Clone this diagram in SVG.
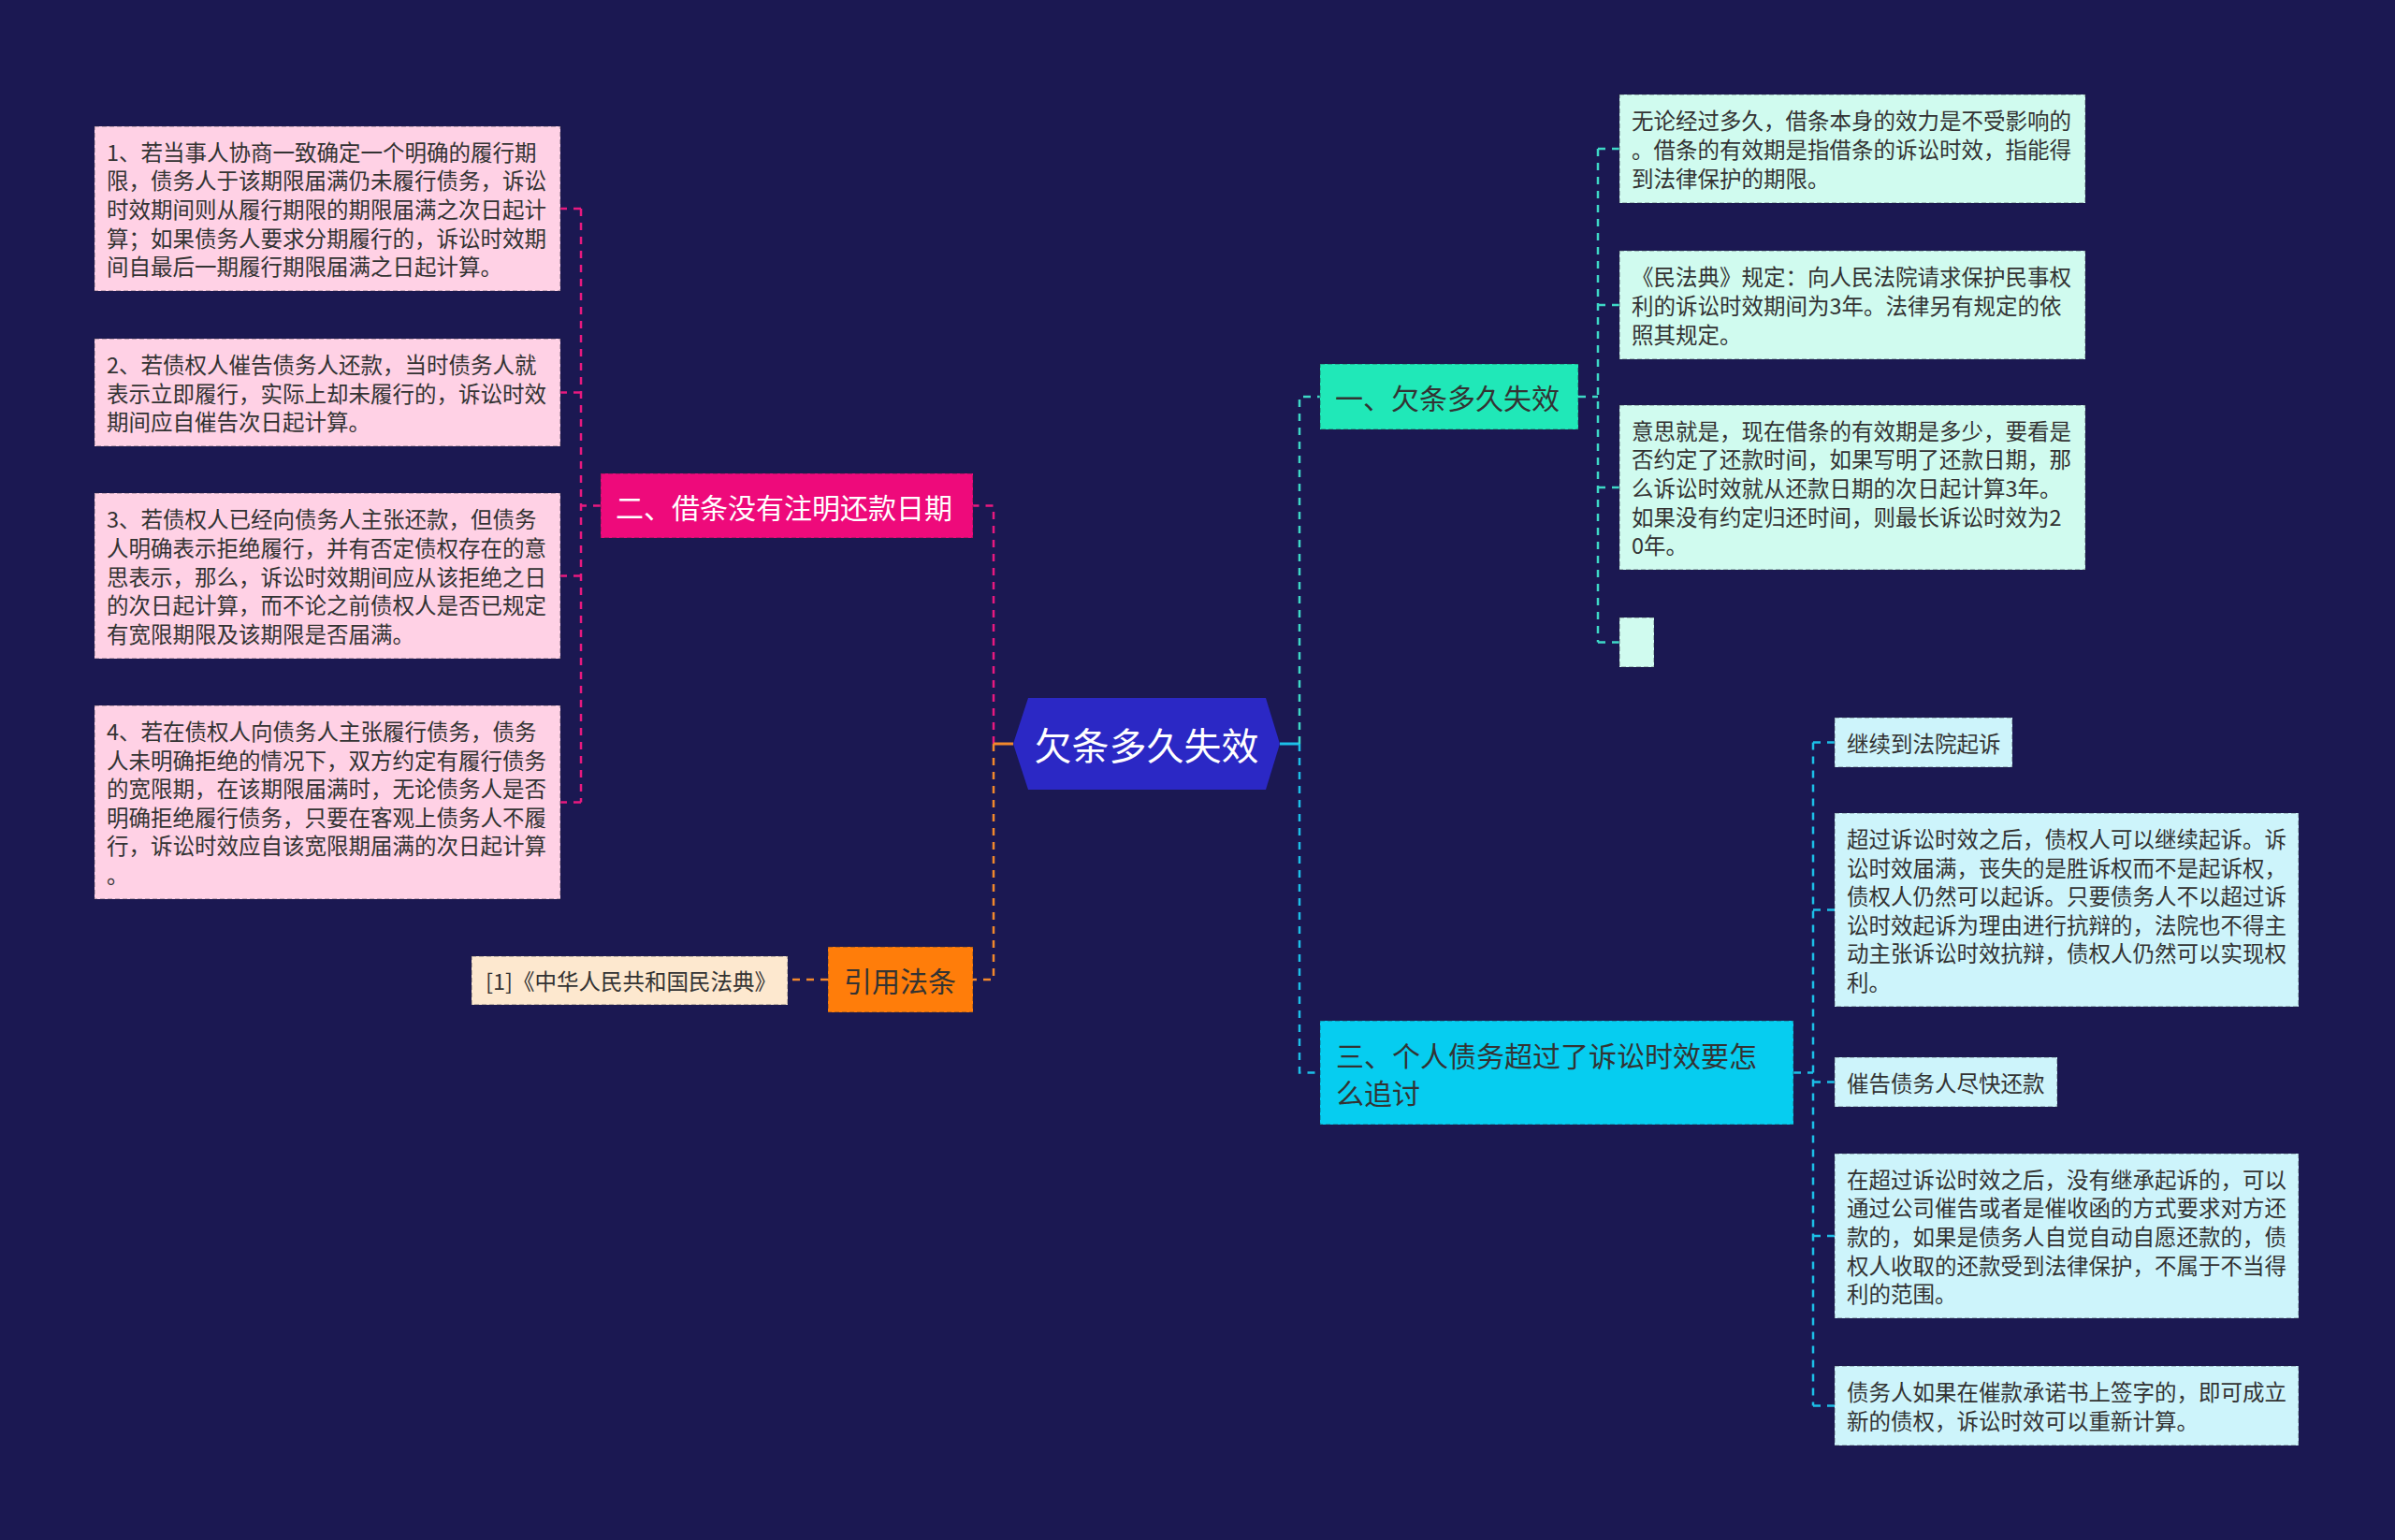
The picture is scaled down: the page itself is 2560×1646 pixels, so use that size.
<svg xmlns="http://www.w3.org/2000/svg" width="2560" height="1646" viewBox="0 0 2560 1646">
<style>
text{font-family:"Noto Sans CJK SC","Microsoft YaHei",sans-serif;dominant-baseline:central}
.leaf{font-size:23.5px;fill:#333}
.br{font-size:30px}
.nb{stroke:rgba(40,40,60,0.35);stroke-width:1.5;stroke-dasharray:5 3}
.c{fill:none;stroke-width:2.5;stroke-dasharray:8 7}
.pk{stroke:#e8197f}.or{stroke:#f2882c}.tl{stroke:#3ed8c6}.cy{stroke:#1cbfe8}
</style>
<rect width="2560" height="1646" fill="#1b1852"/>
<g id="connectors">
<path class="c pk" d="M1062,795 V540.5 H1040"/>
<path class="c pk" d="M642,540.5 H621"/>
<path class="c pk" d="M621,223 V857.5 M621,223 H599 M621,419.5 H599 M621,615.5 H599 M621,857.5 H599"/>
<path d="M1083,795 H1062" stroke="#f2882c" stroke-width="3" fill="none"/>
<path class="c or" d="M1062,795 V1047 H1040"/>
<path class="c or" d="M885,1047 H842"/>
<path d="M1368,795 H1389" stroke="#1cbfe8" stroke-width="3" fill="none"/>
<path class="c tl" d="M1389,795 V424 H1411"/>
<path class="c cy" d="M1389,795 V1146.5 H1411"/>
<path class="c tl" d="M1687,424 H1708 M1708,159 V686.5 M1708,159 H1731 M1708,326 H1731 M1708,521 H1731 M1708,686.5 H1731"/>
<path class="c cy" d="M1917,1146.5 H1938 M1938,793.5 V1502.5 M1938,793.5 H1961 M1938,972.5 H1961 M1938,1156.5 H1961 M1938,1321 H1961 M1938,1502.5 H1961"/>
</g>
<g id="center">
<polygon points="1099,746 1353,746 1368,795 1353,844 1099,844 1083,795" fill="#2b28c5"/>
<text x="1225.5" y="795" font-size="40" fill="#fff" text-anchor="middle">欠条多久失效</text>
</g>
<g id="b2">
<rect class="nb" x="642" y="506" width="398" height="69" fill="#ee0a7b"/>
<text class="br" x="658" y="540.5" fill="#fff">二、借条没有注明还款日期</text>
</g>
<g id="p1">
<rect class="nb" x="101" y="135" width="498" height="176" fill="#ffd1e5"/>
<text class="leaf"><tspan x="114" y="161.8">1、若当事人协商一致确定一个明确的履行期</tspan><tspan x="114" y="192.4">限，债务人于该期限届满仍未履行债务，诉讼</tspan><tspan x="114" y="223">时效期间则从履行期限的期限届满之次日起计</tspan><tspan x="114" y="253.6">算；如果债务人要求分期履行的，诉讼时效期</tspan><tspan x="114" y="284.2">间自最后一期履行期限届满之日起计算。</tspan></text>
</g>
<g id="p2">
<rect class="nb" x="101" y="362" width="498" height="115" fill="#ffd1e5"/>
<text class="leaf"><tspan x="114" y="388.9">2、若债权人催告债务人还款，当时债务人就</tspan><tspan x="114" y="419.5">表示立即履行，实际上却未履行的，诉讼时效</tspan><tspan x="114" y="450.1">期间应自催告次日起计算。</tspan></text>
</g>
<g id="p3">
<rect class="nb" x="101" y="527" width="498" height="177" fill="#ffd1e5"/>
<text class="leaf"><tspan x="114" y="554.3">3、若债权人已经向债务人主张还款，但债务</tspan><tspan x="114" y="584.9">人明确表示拒绝履行，并有否定债权存在的意</tspan><tspan x="114" y="615.5">思表示，那么，诉讼时效期间应从该拒绝之日</tspan><tspan x="114" y="646.1">的次日起计算，而不论之前债权人是否已规定</tspan><tspan x="114" y="676.7">有宽限期限及该期限是否届满。</tspan></text>
</g>
<g id="p4">
<rect class="nb" x="101" y="754" width="498" height="207" fill="#ffd1e5"/>
<text class="leaf"><tspan x="114" y="781">4、若在债权人向债务人主张履行债务，债务</tspan><tspan x="114" y="811.6">人未明确拒绝的情况下，双方约定有履行债务</tspan><tspan x="114" y="842.2">的宽限期，在该期限届满时，无论债务人是否</tspan><tspan x="114" y="872.8">明确拒绝履行债务，只要在客观上债务人不履</tspan><tspan x="114" y="903.4">行，诉讼时效应自该宽限期届满的次日起计算</tspan><tspan x="114" y="934">。</tspan></text>
</g>
<g id="ref">
<rect class="nb" x="885" y="1012" width="155" height="70" fill="#ff7d0a"/>
<text class="br" x="902" y="1047" fill="#333">引用法条</text>
</g>
<g id="ref1">
<rect class="nb" x="504" y="1022" width="338" height="52" fill="#fde8cf"/>
<text class="leaf" x="519" y="1048">[1]《中华人民共和国民法典》</text>
</g>
<g id="b1">
<rect class="nb" x="1411" y="389" width="276" height="70" fill="#20e8b8"/>
<text class="br" x="1427" y="424" fill="#333">一、欠条多久失效</text>
</g>
<g id="r1">
<rect class="nb" x="1731" y="101" width="498" height="116" fill="#d0fbef"/>
<text class="leaf"><tspan x="1744" y="128.4">无论经过多久，借条本身的效力是不受影响的</tspan><tspan x="1744" y="159">。借条的有效期是指借条的诉讼时效，指能得</tspan><tspan x="1744" y="189.6">到法律保护的期限。</tspan></text>
</g>
<g id="r2">
<rect class="nb" x="1731" y="268" width="498" height="116" fill="#d0fbef"/>
<text class="leaf"><tspan x="1744" y="295.4">《民法典》规定：向人民法院请求保护民事权</tspan><tspan x="1744" y="326">利的诉讼时效期间为3年。法律另有规定的依</tspan><tspan x="1744" y="356.6">照其规定。</tspan></text>
</g>
<g id="r3">
<rect class="nb" x="1731" y="433" width="498" height="176" fill="#d0fbef"/>
<text class="leaf"><tspan x="1744" y="459.8">意思就是，现在借条的有效期是多少，要看是</tspan><tspan x="1744" y="490.4">否约定了还款时间，如果写明了还款日期，那</tspan><tspan x="1744" y="521">么诉讼时效就从还款日期的次日起计算3年。</tspan><tspan x="1744" y="551.6">如果没有约定归还时间，则最长诉讼时效为2</tspan><tspan x="1744" y="582.2">0年。</tspan></text>
</g>
<g id="r4">
<rect class="nb" x="1731" y="660" width="37" height="53" fill="#d0fbef"/>
</g>
<g id="b3">
<rect class="nb" x="1411" y="1091" width="506" height="111" fill="#06cdf0"/>
<text class="br" fill="#333"><tspan x="1428" y="1127">三、个人债务超过了诉讼时效要怎</tspan><tspan x="1428" y="1167">么追讨</tspan></text>
</g>
<g id="s1">
<rect class="nb" x="1961" y="767" width="190" height="53" fill="#cdf4fb"/>
<text class="leaf" x="1974" y="793.5">继续到法院起诉</text>
</g>
<g id="s2">
<rect class="nb" x="1961" y="869" width="496" height="207" fill="#cdf4fb"/>
<text class="leaf"><tspan x="1974" y="896">超过诉讼时效之后，债权人可以继续起诉。诉</tspan><tspan x="1974" y="926.6">讼时效届满，丧失的是胜诉权而不是起诉权，</tspan><tspan x="1974" y="957.2">债权人仍然可以起诉。只要债务人不以超过诉</tspan><tspan x="1974" y="987.8">讼时效起诉为理由进行抗辩的，法院也不得主</tspan><tspan x="1974" y="1018.4">动主张诉讼时效抗辩，债权人仍然可以实现权</tspan><tspan x="1974" y="1049">利。</tspan></text>
</g>
<g id="s3">
<rect class="nb" x="1961" y="1130" width="238" height="53" fill="#cdf4fb"/>
<text class="leaf" x="1974" y="1156.5">催告债务人尽快还款</text>
</g>
<g id="s4">
<rect class="nb" x="1961" y="1233" width="496" height="176" fill="#cdf4fb"/>
<text class="leaf"><tspan x="1974" y="1259.8">在超过诉讼时效之后，没有继承起诉的，可以</tspan><tspan x="1974" y="1290.4">通过公司催告或者是催收函的方式要求对方还</tspan><tspan x="1974" y="1321">款的，如果是债务人自觉自动自愿还款的，债</tspan><tspan x="1974" y="1351.6">权人收取的还款受到法律保护，不属于不当得</tspan><tspan x="1974" y="1382.2">利的范围。</tspan></text>
</g>
<g id="s5">
<rect class="nb" x="1961" y="1460" width="496" height="85" fill="#cdf4fb"/>
<text class="leaf"><tspan x="1974" y="1487.2">债务人如果在催款承诺书上签字的，即可成立</tspan><tspan x="1974" y="1517.8">新的债权，诉讼时效可以重新计算。</tspan></text>
</g>
</svg>
